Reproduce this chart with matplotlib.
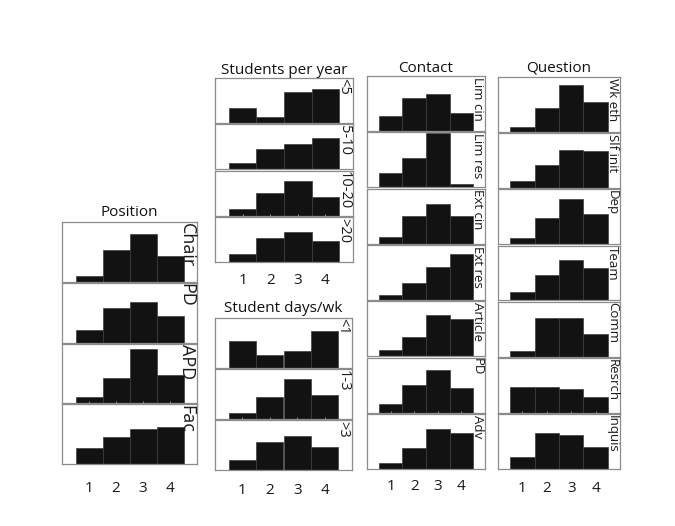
import matplotlib.pyplot as plt

plt.rcParams['font.family'] = ['Open Sans', 'DejaVu Sans']

# answer levels on the x axis
levels = [1, 2, 3, 4]

# percent of respondents per level
position_labels = ['Chair', 'PD', 'APD', 'Fac']
position_pct = [
    [5.3, 28.0, 41.5, 22.5],
    [10.7, 30.3, 35.0, 23.1],
    [5.8, 22.2, 46.8, 24.8],
    [13.8, 23.5, 30.6, 32.0],
]

students_labels = ['<5', '5-10', '10-20', '>20']
students_pct = [
    [17.5, 6.6, 35.3, 39.2],
    [7.0, 22.9, 28.7, 36.1],
    [7.3, 26.6, 39.7, 21.2],
    [9.6, 27.3, 34.7, 24.3],
]

days_labels = ['<1', '1-3', '>3']
days_pct = [
    [28.3, 13.4, 17.3, 38.9],
    [6.3, 22.7, 41.5, 25.1],
    [10.4, 28.8, 35.4, 24.3],
]

contact_labels = ['Lim cin', 'Lim res', 'Ext cin', 'Ext res', 'Article', 'PD', 'Adv']
contact_pct = [
    [14.1, 30.8, 34.7, 16.7],
    [13.5, 27.3, 51.7, 2.6],
    [6.5, 25.7, 37.1, 25.7],
    [4.9, 16.3, 31.5, 43.9],
    [5.8, 18.1, 39.4, 35.2],
    [8.6, 25.8, 40.5, 23.0],
    [6.1, 19.9, 37.6, 34.3],
]

question_labels = ['Wk eth', 'Slf init', 'Dep', 'Team', 'Comm', 'Resrch', 'Inquis']
question_pct = [
    [4.2, 22.1, 44.5, 28.3],
    [6.8, 22.1, 36.4, 35.1],
    [5.5, 25.0, 43.2, 28.3],
    [7.5, 24.4, 38.0, 30.9],
    [5.1, 36.9, 36.9, 21.5],
    [24.9, 24.3, 22.7, 15.1],
    [11.7, 34.4, 32.5, 20.5],
]

W, H = 675, 526
fig = plt.figure(figsize=(W / 100, H / 100), dpi=100)

frame_col = '#8c8c8c'


def column(title, labels, values, x0, x1, top, bottom, gap, title_y, tick_y, strip_fs):
    n = len(labels)
    h = (bottom - top - gap * (n - 1)) / n
    for i, (lab, vals) in enumerate(zip(labels, values)):
        y_top = top + i * (h + gap)
        ax = fig.add_axes([x0 / W, 1 - (y_top + h) / H, (x1 - x0) / W, h / H])
        ax.set_facecolor('none')
        ax.bar(levels, vals, width=1.0, color='#121212', edgecolor='#3c3c3c', linewidth=0.5)
        ax.set_xlim(0, 5)
        ax.set_ylim(0, 52)
        ax.set_yticks([])
        for s in ax.spines.values():
            s.set_color(frame_col)
            s.set_linewidth(0.9)
        ax.text(0.99, 0.99, lab, transform=ax.transAxes, rotation=-90,
                ha='right', va='top', fontsize=strip_fs, color='#1a1a1a')
        if i == n - 1:
            ax.set_xticks(levels)
            pad = (tick_y - (y_top + h) - 7) * 0.72
            ax.tick_params(axis='x', bottom=False, top=True, direction='out',
                           length=2, color=frame_col, labelsize=11, pad=pad,
                           labelcolor='#1a1a1a')
        else:
            ax.set_xticks([])
    fig.text((x0 + x1) / 2 / W, 1 - title_y / H, title, ha='center', va='center',
             fontsize=11, color='#111111')


column('Position', position_labels, position_pct, 62, 197, 222, 464, 1, 213, 485, 13)
column('Students per year', students_labels, students_pct, 215, 353, 78, 262, 1.5, 70, 277, 10.5)
column('Student days/wk', days_labels, days_pct, 215, 352, 318, 470, 1.5, 308, 487, 10.5)
column('Contact', contact_labels, contact_pct, 367, 485, 76, 469, 1.5, 68, 483, 9.5)
column('Question', question_labels, question_pct, 498, 620, 77, 469, 1.5, 68, 485, 9.5)

fig.savefig('out.png', dpi=100)
